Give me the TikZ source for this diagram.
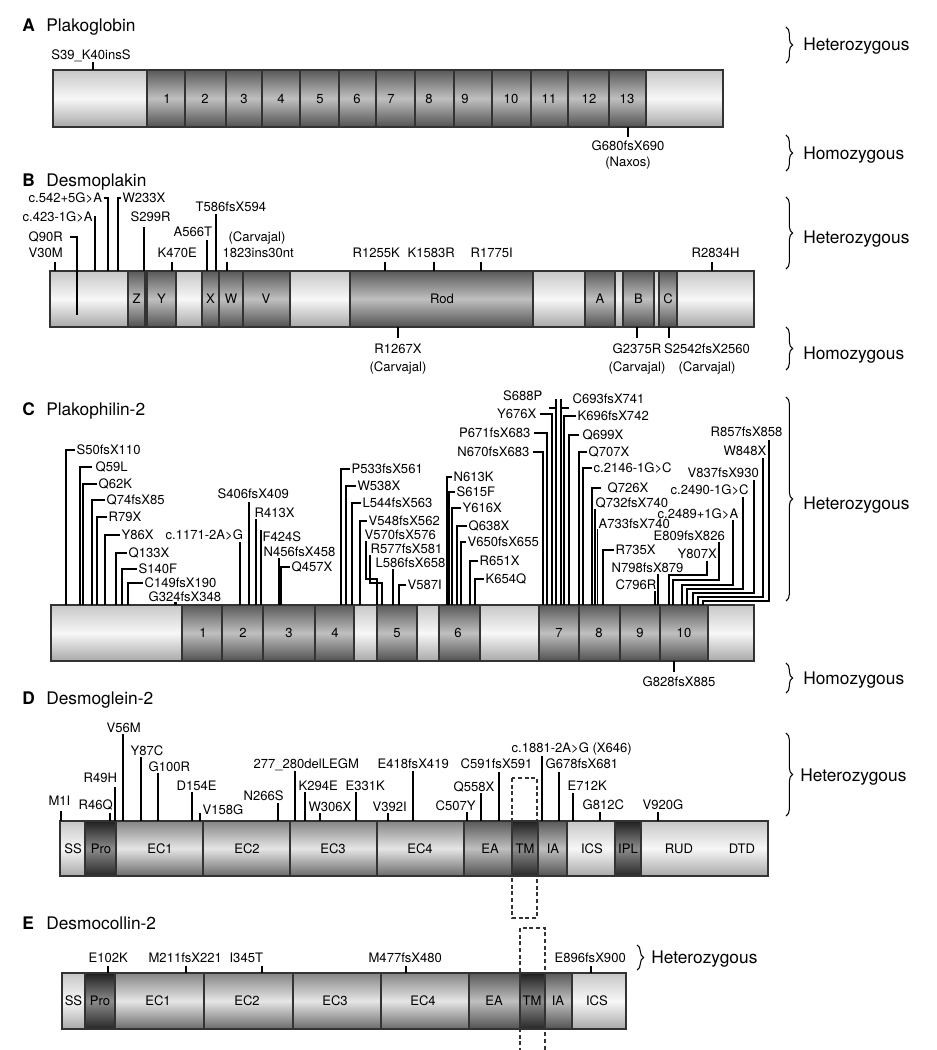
\documentclass[tikz,border=0pt]{standalone}
\usepackage{fontspec}
\setmainfont{TeX Gyre Heros}
\usetikzlibrary{decorations.pathreplacing}
\newcommand\labfont{\fontsize{9.8}{11.6}\selectfont}
\newcommand\headfont{\fontsize{13}{15.6}\selectfont}
\newcommand\seg[5]{\shade[#5] (#1,#3) rectangle (#2,#4); \draw[segedge] (#1,#3) rectangle (#2,#4);}
\begin{document}
\begin{tikzpicture}[x=0.75pt,y=-0.75pt,
 lab/.style={font=\labfont,inner sep=1pt,text height=7pt,text depth=0pt},
 labw/.style={lab,anchor=west},
 labe/.style={lab,anchor=east},
 head/.style={font=\headfont,inner sep=0pt,text height=9.4pt,text depth=0pt,anchor=west},
 segedge/.style={draw=black!80,line width=0.85pt},
 lightseg/.style={top color=black!22,bottom color=black!34,middle color=black!3},
 medseg/.style={top color=black!48,bottom color=black!58,middle color=black!10},
 darkseg/.style={top color=black!65,bottom color=black!68,middle color=black!25},
 darkestseg/.style={top color=black!88,bottom color=black!85,middle color=black!45},
 lead/.style={draw=black,line width=0.85pt},
 brc/.style={draw=black,decorate,decoration={brace,amplitude=5pt},line width=0.8pt},
 tmbox/.style={draw=black!80,line width=0.8pt,dash pattern=on 3pt off 2pt}
]
\fill[white] (0,0) rectangle (937,1050);
\useasboundingbox (0,0) rectangle (937,1050);

%%%%%%%%%%%%%%%% A
\node[head] (tA) at (22,25) {\bfseries A};
\node[head] (nA) at (46,25) {Plakoglobin};
\seg{53}{147}{70}{127}{lightseg}
\foreach \a/\b in {147/185,185/226,226/262,262/300,300/339,339/376,376/415,415/454,454/492,492/531,531/568,568/609,609/646}{\seg{\a}{\b}{70}{127}{darkseg}}
\seg{646}{723}{70}{127}{lightseg}
\foreach \n/\x in {1/167,2/205,3/244,4/281,5/320,6/357,7/391,8/429,9/465,10/511,11/549,12/589,13/627}{\node[lab] (pg\n) at (\x,98.5) {\n};}
\node[lab] (mA1) at (91,55) {S39\_K40insS};
\draw[lead] (93,62) -- (93,70);
\draw[lead] (628,127) -- (628,137);
\node[lab] (mA2) at (628,146) {G680fsX690};
\node[lab] (mA2b) at (628,162) {(Naxos)};
\draw[brc] (786,27) -- (786,63);
\node[head] (hetA) at (803,44) {Heterozygous};
\draw[brc] (786,135) -- (786,171);
\node[head] (homA) at (803,153) {Homozygous};

%%%%%%%%%%%%%%%% B
\node[head] (tB) at (22,180) {\bfseries B};
\node[head] (nB) at (46,180) {Desmoplakin};
\seg{50}{128}{271}{327}{lightseg}
\seg{128}{145}{271}{327}{darkseg}
\seg{145}{147}{271}{327}{lightseg}
\seg{147}{176}{271}{327}{darkseg}
\seg{176}{202}{271}{327}{lightseg}
\seg{202}{219}{271}{327}{darkseg}
\seg{219}{243}{271}{327}{darkseg}
\seg{243}{290}{271}{327}{darkseg}
\seg{290}{350}{271}{327}{lightseg}
\seg{350}{533}{271}{327}{darkseg}
\seg{533}{585}{271}{327}{lightseg}
\seg{585}{615}{271}{327}{darkseg}
\seg{615}{623}{271}{327}{lightseg}
\seg{623}{654}{271}{327}{darkseg}
\seg{654}{659}{271}{327}{lightseg}
\seg{659}{677}{271}{327}{darkseg}
\seg{677}{754}{271}{327}{lightseg}
\foreach \n/\t/\x in {z/Z/136.5,y/Y/161.5,x/X/210.5,w/W/231,v/V/266,rod/Rod/442,a/A/600,b/B/638.5,c/C/668}{\node[lab] (dp\n) at (\x,299) {\t};}
\node[labw] (v30) at (27,253) {V30M};
\draw[lead] (55,262) -- (55,271);
\node[labw] (q90) at (27,237) {Q90R};
\draw[lead] (q90.east) ++(6,0) -| (77,315);
\node[labw] (c423) at (21,217) {c.423-1G>A};
\draw[lead] (c423.east) -| (95,271);
\node[labw] (c542) at (27,198) {c.542+5G>A};
\draw[lead] (c542.east) -| (108,271);
\node[labw] (w233) at (121,198) {W233X};
\draw[lead] (w233.west) -| (118,271);
\node[labw] (s299) at (129,217) {S299R};
\draw[lead] (144,227) -- (144,271);
\node[labw] (k470) at (156,253) {K470E};
\draw[lead] (172,262) -- (172,271);
\node[labw] (a566) at (172,232) {A566T};
\draw[lead] (207,240) -- (207,271);
\node[labw] (t586) at (194,207) {T586fsX594};
\draw[lead] (216,214) -- (216,271);
\node[labw] (carv1) at (227,237) {(Carvajal)};
\node[labw] (i1823) at (221,253) {1823ins30nt};
\draw[lead] (227,262) -- (227,271);
\node[labw] (r1255) at (351,253) {R1255K};
\draw[lead] (385,262) -- (385,271);
\node[labw] (k1583) at (406,253) {K1583R};
\draw[lead] (434,262) -- (434,271);
\node[labw] (r1775) at (469,253) {R1775I};
\draw[lead] (481,262) -- (481,271);
\node[labw] (r2834) at (690,253) {R2834H};
\draw[lead] (712,262) -- (712,271);
\draw[lead] (398,327) -- (398,338);
\node[lab] (r1267) at (398,349) {R1267X};
\node[lab] (r1267b) at (398,367) {(Carvajal)};
\draw[lead] (637,327) -- (637,338);
\node[lab] (g2375) at (637,349) {G2375R};
\node[lab] (g2375b) at (637,367) {(Carvajal)};
\draw[lead] (669,327) -- (669,338);
\node[lab] (s2542) at (707,349) {S2542fsX2560};
\node[lab] (s2542b) at (707,367) {(Carvajal)};
\draw[brc] (786,197) -- (786,269);
\node[head] (hetB) at (803,237) {Heterozygous};
\draw[brc] (786,327) -- (786,370);
\node[head] (homB) at (803,353) {Homozygous};

%%%%%%%%%%%%%%%% C
\node[head] (tC) at (22,409) {\bfseries C};
\node[head] (nC) at (46,409) {Plakophilin-2};
\seg{51}{182}{605}{661}{lightseg}
\foreach \a/\b in {182/222,222/263,263/315,315/354}{\seg{\a}{\b}{605}{661}{darkseg}}
\seg{354}{377}{605}{661}{lightseg}
\seg{377}{417}{605}{661}{darkseg}
\seg{417}{439}{605}{661}{lightseg}
\seg{439}{480}{605}{661}{darkseg}
\seg{480}{539}{605}{661}{lightseg}
\foreach \a/\b in {539/579,579/620,620/660,660/708}{\seg{\a}{\b}{605}{661}{darkseg}}
\seg{708}{754}{605}{661}{lightseg}
\foreach \n/\x in {1/203,2/243,3/289,4/335,5/397,6/458,7/559,8/599,9/640,10/684}{\node[lab] (pk\n) at (\x,633) {\n};}
\fill[black] (174,602) rectangle (177,605);
% left group
\node[labw] (s50) at (75,450) {S50fsX110};   \draw[lead] (s50.west) -| (66,605);
\node[labw] (q59) at (94,467) {Q59L};        \draw[lead] (q59.west) ++(-2,0) -| (80,605);
\node[labw] (q62) at (97,484) {Q62K};        \draw[lead] (q62.west) -| (83,605);
\node[labw] (q74) at (105,500) {Q74fsX85};   \draw[lead] (q74.west) -| (92,605);
\node[labw] (r79) at (107,517) {R79X};       \draw[lead] (r79.west) -| (97,605);
\node[labw] (y86) at (120,535) {Y86X};       \draw[lead] (y86.west) -| (105,605);
\node[labw] (q133) at (127,553) {Q133X};     \draw[lead] (q133.west) -| (116,605);
\node[labw] (s140) at (137,569) {S140F};     \draw[lead] (s140.west) -| (122,605);
\node[labw] (c149) at (143,583) {C149fsX190};\draw[lead] (c149.west) -| (128,605);
\node[labw] (g324) at (147,597) {G324fsX348};
\node[labw] (c1171) at (164,535) {c.1171-2A>G}; \draw[lead] (240,542) -- (240,605);
\node[labw] (s406) at (216,494) {S406fsX409};  \draw[lead] (249,502) -- (249,605);
\node[labw] (r413) at (253,513) {R413X};       \draw[lead] (256,519) -- (256,605);
\node[labw] (f424) at (261,537) {F424S};       \draw[lead] (261,530) -- (261,605);
\node[labw] (n456) at (262,552) {N456fsX458};  \draw[lead] (279,558) -- (279,605);
\node[labw] (q457) at (290,567) {Q457X};       \draw[lead] (q457.west) -| (281,605);
% 4-5
\node[labw] (p533) at (350,469) {P533fsX561};  \draw[lead] (p533.west) -| (341,605);
\node[labw] (w538) at (356,486) {W538X};       \draw[lead] (w538.west) -| (346,605);
\node[labw] (l544) at (361,503) {L544fsX563};  \draw[lead] (l544.west) -| (352,605);
\node[labw] (v548) at (367,521) {V548fsX562};  \draw[lead] (v548.west) -| (360,605);
\node[labw] (v570) at (363,535) {V570fsX576};  \draw[lead] (366,541) -- (366,579) -- (377,579) -- (377,605);
\node[labw] (r577) at (369,549) {R577fsX581};  \draw[lead] (370,555) -- (370,583) -- (382,583) -- (382,605);
\node[labw] (l586) at (374,563) {L586fsX658};  \draw[lead] (393,569) -- (393,605);
\node[labw] (v587) at (406,585) {V587I};       \draw[lead] (v587.west) -| (399,605);
% 6
\node[labw] (n613) at (452,477) {N613K};       \draw[lead] (n613.west) -| (447,605);
\node[labw] (s615) at (455,492) {S615F};       \draw[lead] (s615.west) -| (449,605);
\node[labw] (y616) at (461,508) {Y616X};       \draw[lead] (y616.west) -| (452,605);
\node[labw] (q638) at (467,526) {Q638X};       \draw[lead] (q638.west) -| (457,605);
\node[labw] (v650) at (466,542) {V650fsX655};  \draw[lead] (v650.west) -| (461,605);
\node[labw] (r651) at (478,561) {R651X};       \draw[lead] (r651.west) -| (470,605);
\node[labw] (k654) at (484,579) {K654Q};       \draw[lead] (k654.west) -| (475,605);
% 7
\node[labe] (n670) at (531,452) {N670fsX683};  \draw[lead] (n670.east) ++(2,0) -| (543,605);
\node[labe] (p671) at (532,433) {P671fsX683};  \draw[lead] (p671.east) ++(2,0) -| (547,605);
\node[labe] (y676) at (538,414) {Y676X};       \draw[lead] (y676.east) ++(2,0) -| (552,605);
\node[labe] (s688) at (544,396) {S688P};       \draw[lead] (556,399) -- (556,605); \draw[lead] (549,408) -- (556,408);
\node[labw] (c693) at (571,399) {C693fsX741};  \draw[lead] (561,399) -- (561,605); \draw[lead] (561,408) -- (569,408);
\node[labw] (k696) at (576,416) {K696fsX742};  \draw[lead] (k696.west) -| (564,605);
\node[labw] (q699) at (581,435) {Q699X};       \draw[lead] (q699.west) ++(-2,0) -| (569,605);
\node[labw] (q707) at (587,452) {Q707X};       \draw[lead] (q707.west) -| (579,605);
\node[labw] (c2146) at (592,468) {c.2146-1G>C};\draw[lead] (c2146.west) -| (583,605);
\node[labw] (q726) at (606,488) {Q726X};       \draw[lead] (q726.west) ++(-5,0) -| (592,605);
\node[labw] (q732) at (594,503) {Q732fsX740};  \draw[lead] (595,509) -- (595,605);
\node[labw] (a733) at (597,524) {A733fsX740};  \draw[lead] (597.5,529) -- (597.5,605);
\node[labw] (r735) at (614,550) {R735X};       \draw[lead] (r735.west) -| (603,605);
\node[labw] (n798) at (610,568) {N798fsX879};  \draw[lead] (658,574) -- (658,605);
\node[labw] (c796) at (614,585) {C796R};       \draw[lead] (655,591) -- (655,605);
% 10
\node[labw] (y807) at (676,554) {Y807X};       \draw[lead] (707,561) -- (707,575) -- (669,575) -- (669,605);
\node[labw] (e809) at (652,536) {E809fsX826};  \draw[lead] (719,542) -- (719,580) -- (673,580) -- (673,605);
\node[labw] (c2489) at (656,514) {c.2489+1G>A};\draw[lead] (733,520) -- (733,585) -- (682,585) -- (682,605);
\node[labw] (c2490) at (669,490) {c.2490-1G>C};\draw[lead] (743,497) -- (743,589) -- (687,589) -- (687,605);
\node[labw] (v837) at (686,473) {V837fsX930};  \draw[lead] (754,480) -- (754,593) -- (693,593) -- (693,605);
\node[labw] (w848) at (722,451) {W848X};       \draw[lead] (763,458) -- (763,597) -- (698,597) -- (698,605);
\node[labw] (r857) at (709,432) {R857fsX858};  \draw[lead] (769,440) -- (769,601) -- (703,601) -- (703,605);
\draw[lead] (674,661) -- (674,672);
\node[lab] (g828) at (679,682) {G828fsX885};
\draw[brc] (786,397) -- (786,601);
\node[head] (hetC) at (803,503) {Heterozygous};
\draw[brc] (786,663) -- (786,693);
\node[head] (homC) at (803,678) {Homozygous};

%%%%%%%%%%%%%%%% D
\node[head] (tD) at (22,698) {\bfseries D};
\node[head] (nD) at (46,698) {Desmoglein-2};
\draw[tmbox] (512,778) rectangle (537,918);
\seg{60}{85}{821}{876}{lightseg}
\seg{85}{116}{821}{876}{darkestseg}
\foreach \a/\b in {116/203,203/290,290/377,377/464}{\seg{\a}{\b}{821}{876}{medseg}}
\seg{464}{512}{821}{876}{darkseg}
\seg{512}{538}{821}{876}{darkestseg}
\seg{538}{567}{821}{876}{darkseg}
\seg{567}{615}{821}{876}{lightseg}
\seg{615}{641}{821}{876}{darkestseg}
\seg{641}{768}{821}{876}{lightseg}
\foreach \n/\t/\x in {ss/SS/73,pro/Pro/101,ec1/EC1/160,ec2/EC2/247,ec3/EC3/333,ec4/EC4/420,ea/EA/490,tm/TM/525,ia/IA/553,ics/ICS/592,ipl/IPL/628,rud/RUD/679,dtd/DTD/742}{\node[lab] (dg\n) at (\x,848.5) {\t};}
\node[labw] (m1) at (47,801) {M1I};          \draw[lead] (61,811) -- (61,821);
\node[labw] (r46) at (77,805) {R46Q};        \draw[lead] (110,813) -- (110,821);
\node[labw] (r49) at (82,778) {R49H};        \draw[lead] (115,787) -- (115,821);
\node[labw] (v56) at (105,728) {V56M};       \draw[lead] (123,734) -- (123,821);
\node[labw] (y87) at (129,751) {Y87C};       \draw[lead] (141,757) -- (141,821);
\node[labw] (g100) at (147,767) {G100R};     \draw[lead] (158,773) -- (158,821);
\node[labw] (d154) at (175,786) {D154E};     \draw[lead] (192,792) -- (192,821);
\node[labw] (v158) at (201,810) {V158G};     \draw[lead] (200,813) -- (200,821);
\node[labw] (n266) at (242,796) {N266S};     \draw[lead] (278,803) -- (278,821);
\node[labw] (d277) at (252,764) {277\_280delLEGM}; \draw[lead] (295,771) -- (295,821);
\node[labw] (k294) at (297,786) {K294E};     \draw[lead] (305,792) -- (305,821);
\node[labw] (w306) at (307,807) {W306X};     \draw[lead] (320,813) -- (320,821);
\node[labw] (e331) at (344,786) {E331K};     \draw[lead] (356,792) -- (356,821);
\node[labw] (v392) at (371,807) {V392I};     \draw[lead] (388,813) -- (388,821);
\node[labw] (e418) at (376,764) {E418fsX419};\draw[lead] (413,771) -- (413,821);
\node[labw] (c507) at (434,806) {C507Y};     \draw[lead] (467,812) -- (467,821);
\node[labw] (q558) at (452,787) {Q558X};     \draw[lead] (481,793) -- (481,821);
\node[labw] (c591) at (459,764) {C591fsX591};\draw[lead] (499,772) -- (499,821);
\node[labw] (c1881) at (510,748) {c.1881-2A>G (X646)}; \draw[lead] (542,756) -- (542,821);
\node[labw] (g678) at (544,764) {G678fsX681};\draw[lead] (559,772) -- (559,821);
\node[labw] (e712) at (566,786) {E712K};     \draw[lead] (573,793) -- (573,821);
\node[labw] (g812) at (581,805) {G812C};     \draw[lead] (600,812) -- (600,821);
\node[labw] (v920) at (641,805) {V920G};     \draw[lead] (658,812) -- (658,821);
\draw[brc] (786,733) -- (786,816);
\node[head] (hetD) at (800,775) {Heterozygous};

%%%%%%%%%%%%%%%% E
\node[head] (tE) at (22,923) {\bfseries E};
\node[head] (nE) at (46,923) {Desmocollin-2};
\draw[tmbox] (520,1052) -- (520,928) -- (545,928) -- (545,1052);
\seg{62}{85}{973}{1029}{lightseg}
\seg{85}{115}{973}{1029}{darkestseg}
\foreach \a/\b in {115/204,204/293,293/381,381/469}{\seg{\a}{\b}{973}{1029}{medseg}}
\seg{469}{520}{973}{1029}{darkseg}
\seg{520}{545}{973}{1029}{darkestseg}
\seg{545}{572}{973}{1029}{darkseg}
\seg{572}{626}{973}{1029}{lightseg}
\foreach \n/\t/\x in {ss/SS/73.5,pro/Pro/100,ec1/EC1/158,ec2/EC2/247,ec3/EC3/335,ec4/EC4/423,ea/EA/494,tm/TM/532,ia/IA/558,ics/ICS/597}{\node[lab] (dc\n) at (\x,1001) {\t};}
\node[labw] (e102) at (87,958) {E102K};       \draw[lead] (108,966) -- (108,973);
\node[labw] (m211) at (147,958) {M211fsX221}; \draw[lead] (186,966) -- (186,973);
\node[labw] (i345) at (228,958) {I345T};      \draw[lead] (262,966) -- (262,973);
\node[labw] (m477) at (367,958) {M477fsX480}; \draw[lead] (406,966) -- (406,973);
\node[labw] (e896) at (553,958) {E896fsX900}; \draw[lead] (591,966) -- (591,973);
\draw[brc] (637,945) -- (637,970);
\node[head] (hetE) at (651,957) {Heterozygous};
\end{tikzpicture}
\end{document}
